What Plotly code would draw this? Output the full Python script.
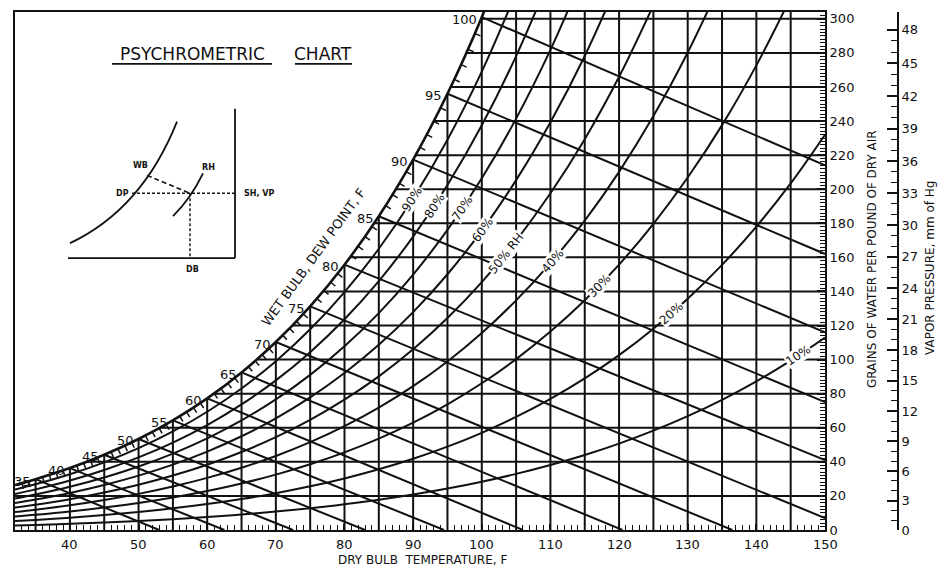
import numpy as np
import plotly.graph_objects as go

# ---------------- data ----------------
temps_f = [32, 35, 40, 45, 50, 55, 60, 65, 70, 75, 80, 85, 90, 95, 100,
           105, 110, 115, 120, 125, 130, 135, 140, 145, 150]
# saturation vapour pressure, mm Hg, at each temperature above
sat_vp_mm = [4.58, 5.17, 6.29, 7.63, 9.21, 11.07, 13.25, 15.81, 18.78, 22.24,
             26.24, 30.84, 36.14, 42.21, 49.14, 57.04, 65.99, 76.07, 87.50,
             100.4, 114.9, 131.1, 149.3, 169.6, 192.2]

rh_levels = [10, 20, 30, 40, 50, 60, 70, 80, 90]
rh_label_text = ["10%", "20%", "30%", "40%", "50% RH", "60%", "70%", "80%", "90%"]
rh_label_temp = [146.2, 127.7, 117.1, 110.3, 103.6, 100.1, 97.2, 93.1, 89.9]

wb_temps = [35, 40, 45, 50, 55, 60, 65, 70, 75, 80, 85, 90, 95, 100]
wb_end_temp = [53, 62.5, 72.5, 83, 94.5, 106, 120.5, 136.5, 150, 150, 150, 150, 150, 150]
wb_end_grains = [0, 0, 0, 0, 0, 0, 0, 0, 7, 41, 75, 116, 162, 214]

db_lines = list(range(35, 150, 5))
sh_lines = list(range(20, 301, 20))
x_tick_vals = list(range(40, 151, 10))
grain_tick_vals = list(range(0, 301, 20))
vp_tick_mm = list(range(0, 49, 3))
vp_minor_mm = [m for m in range(1, 49) if m % 3]

# ---------------- geometry / style ----------------
W, H = 946, 568
PAGE_OFF = 8                       # page body margin offset
ML, MT = 15 - PAGE_OFF, 10 - PAGE_OFF
PW, PH = 925, 520
MR = W - ML - PW
MB = H - MT - PH
X0, X1 = 32, 150
Y0, Y1 = 0, 304
X_DOMAIN_END = (825 - 15) / PW
VP_AXIS_POS = (898 - 15) / PW
PX_F = (825 - 15) / (X1 - X0)
PX_G = PH / (Y1 - Y0)
INK = "#111111"
FONT = "DejaVu Sans"
LW = 2.0


def px(xp):
    return (xp - 15) / PW


def py(yp):
    return (530 - yp) / PH


def grains_from_vp(p):
    p = np.asarray(p, float)
    return 4354.0 * p / (760.0 - p)


T_arr = np.array(temps_f, float)
vp_arr = np.array(sat_vp_mm, float)
sat_g = grains_from_vp(vp_arr)


def vp_at(t):
    return np.exp(np.interp(t, T_arr, np.log(vp_arr)))


def sat_at(t):
    return float(grains_from_vp(vp_at(t)))


def tsat_of(g):
    if g <= sat_g[0]:
        return X0
    return float(np.interp(np.log(g), np.log(sat_g), T_arr))


def clip_curve(xs, ys):
    ox, oy = [], []
    for x, y in zip(xs, ys):
        ox.append(float(x))
        oy.append(float(y))
        if y > Y1:
            break
    return ox, oy


fig = go.Figure()

# saturation curve
sx, sy = clip_curve(T_arr, sat_g)
fig.add_trace(go.Scatter(x=sx, y=sy, mode="lines", line=dict(color=INK, width=2.6, shape="spline")))

# RH curves
for rh in rh_levels:
    cx, cy = clip_curve(T_arr, grains_from_vp(rh / 100.0 * vp_arr))
    fig.add_trace(go.Scatter(x=cx, y=cy, mode="lines", line=dict(color=INK, width=LW, shape="spline")))

# dry-bulb verticals
xs, ys = [], []
for t in db_lines:
    top = min(float(sat_g[temps_f.index(t)]), Y1 + 2)
    xs += [t, t, None]
    ys += [0, top, None]
fig.add_trace(go.Scatter(x=xs, y=ys, mode="lines", line=dict(color=INK, width=LW)))

# specific humidity horizontals
xs, ys = [], []
for g in sh_lines:
    xs += [tsat_of(g), X1, None]
    ys += [g, g, None]
fig.add_trace(go.Scatter(x=xs, y=ys, mode="lines", line=dict(color=INK, width=LW)))

# wet-bulb lines
xs, ys = [], []
for tw, te, ge in zip(wb_temps, wb_end_temp, wb_end_grains):
    xs += [tw, te, None]
    ys += [float(sat_g[temps_f.index(tw)]), ge, None]
fig.add_trace(go.Scatter(x=xs, y=ys, mode="lines", line=dict(color=INK, width=LW)))

# scale ticks along the saturation curve
xs, ys = [], []
L = 6.0
for t in range(33, 101):
    if t % 5 == 0:
        continue
    g = sat_at(t)
    slope = (sat_at(t + 0.25) - sat_at(t - 0.25)) / 0.5
    tx, ty = PX_F, slope * PX_G
    n = np.hypot(tx, ty)
    nx, ny = ty / n, -tx / n
    xs += [t, t + nx * L / PX_F, None]
    ys += [g, g + ny * L / PX_G, None]
fig.add_trace(go.Scatter(x=xs, y=ys, mode="lines", line=dict(color=INK, width=1.5)))

# dummy on vapour-pressure axis so it is drawn
fig.add_trace(go.Scatter(x=[40], y=[0], yaxis="y2", mode="markers",
                         marker=dict(opacity=0), hoverinfo="skip"))

ann = []
# wet bulb / dew point labels
for t in wb_temps:
    ann.append(dict(x=t, y=sat_at(t), xref="x", yref="y", text=str(t), showarrow=False,
                    xanchor="right", yanchor="middle", xshift=-3, yshift=-2,
                    font=dict(family=FONT, size=13, color=INK)))

# RH labels along curves
for rh, txt, t in zip(rh_levels, rh_label_text, rh_label_temp):
    f = rh / 100.0
    g = float(grains_from_vp(f * vp_at(t)))
    s = (float(grains_from_vp(f * vp_at(t + 0.5))) - float(grains_from_vp(f * vp_at(t - 0.5))))
    ang = np.degrees(np.arctan2(s * PX_G, PX_F))
    ann.append(dict(x=t, y=g, xref="x", yref="y", text=txt, showarrow=False,
                    textangle=-ang, bgcolor="white", borderpad=0,
                    font=dict(family=FONT, size=12, color=INK)))

# dry-bulb tick labels
for v in x_tick_vals:
    ann.append(dict(x=v, y=py(545), xref="x", yref="paper", text=str(v), showarrow=False,
                    xanchor="center", yanchor="middle",
                    font=dict(family=FONT, size=13, color=INK)))


def ptext(xp, yp, text, size, angle=0, xanchor="center"):
    ann.append(dict(x=px(xp), y=py(yp), xref="paper", yref="paper", text=text,
                    showarrow=False, textangle=angle, xanchor=xanchor, yanchor="middle",
                    font=dict(family=FONT, size=size, color=INK)))


ptext(313, 256, "WET BULB, DEW POINT, F", 13, angle=-54)
ptext(192, 52, "PSYCHROMETRIC", 17)
ptext(323, 52, "CHART", 17)
ptext(422, 560, "DRY BULB  TEMPERATURE, F", 12)
ptext(872, 258, "GRAINS OF WATER PER POUND OF DRY AIR", 12, angle=-90)
ptext(930, 267, "VAPOR PRESSURE, mm of Hg", 12, angle=-90)
# inset labels
ptext(140, 164, "<b>WB</b>", 8)
ptext(208, 166, "<b>RH</b>", 8)
ptext(122, 192, "<b>DP</b>", 8)
ptext(259, 192, "<b>SH, VP</b>", 8)
ptext(192, 268, "<b>DB</b>", 8)

shapes = []


def pline(x0, y0, x1, y1, width=1.8, dash="solid"):
    shapes.append(dict(type="line", xref="paper", yref="paper", x0=px(x0), y0=py(y0),
                       x1=px(x1), y1=py(y1), line=dict(color=INK, width=width, dash=dash)))


def pquad(p0, c, p1, width=1.8):
    path = "M {},{} Q {},{} {},{}".format(px(p0[0]), py(p0[1]), px(c[0]), py(c[1]), px(p1[0]), py(p1[1]))
    shapes.append(dict(type="path", xref="paper", yref="paper", path=path,
                       line=dict(color=INK, width=width)))


# title underlines
pline(112, 62, 272, 62)
pline(295, 62, 352, 62)
# inset diagram
pline(235, 107, 235, 257)
pline(68, 257, 235, 257)
pquad((70, 242), (142, 208), (177, 120))
pquad((173, 215), (191, 197), (203, 172))
pline(147, 174, 190, 192, width=1.6, dash="5px,3px")
pline(132, 192, 235, 192, width=1.4, dash="3px,2px")
pline(190, 192, 190, 257, width=1.4, dash="3px,2px")

tickfont = dict(family=FONT, size=13, color=INK)
fig.update_layout(
    width=W, height=H,
    margin=dict(l=ML, r=MR, t=MT, b=MB),
    plot_bgcolor="white", paper_bgcolor="white",
    showlegend=False, hovermode=False,
    annotations=ann, shapes=shapes,
    xaxis=dict(range=[X0, X1], domain=[0, X_DOMAIN_END], showline=True, linecolor=INK,
               linewidth=2, mirror=True, tickmode="array", tickvals=x_tick_vals,
               showticklabels=False, ticks="inside", ticklen=6,
               tickwidth=1.5, tickcolor=INK,
               minor=dict(dtick=1, ticks="inside", ticklen=5, tickwidth=1.3, tickcolor=INK),
               showgrid=False, zeroline=False),
    yaxis=dict(range=[Y0, Y1], side="right", showline=True, linecolor=INK, linewidth=2,
               mirror=True, tickmode="array", tickvals=grain_tick_vals,
               ticktext=[str(v) for v in grain_tick_vals], ticks="inside", ticklen=8,
               tickwidth=1.5, tickcolor=INK,
               minor=dict(dtick=2, ticks="inside", ticklen=5, tickwidth=1.1, tickcolor=INK),
               showgrid=False, zeroline=False, tickfont=tickfont),
    yaxis2=dict(range=[Y0, Y1], overlaying="y", side="right", anchor="free",
                position=VP_AXIS_POS, showline=True, linecolor=INK, linewidth=2,
                tickmode="array", tickvals=[float(v) for v in grains_from_vp(vp_tick_mm)],
                ticktext=[str(v) for v in vp_tick_mm], ticks="inside", ticklen=10,
                tickwidth=1.6, tickcolor=INK,
                minor=dict(tickmode="array", tickvals=[float(v) for v in grains_from_vp(vp_minor_mm)],
                           ticks="inside", ticklen=6, tickwidth=1.2, tickcolor=INK),
                showgrid=False, zeroline=False, tickfont=tickfont),
)

fig.write_html("out.html")
